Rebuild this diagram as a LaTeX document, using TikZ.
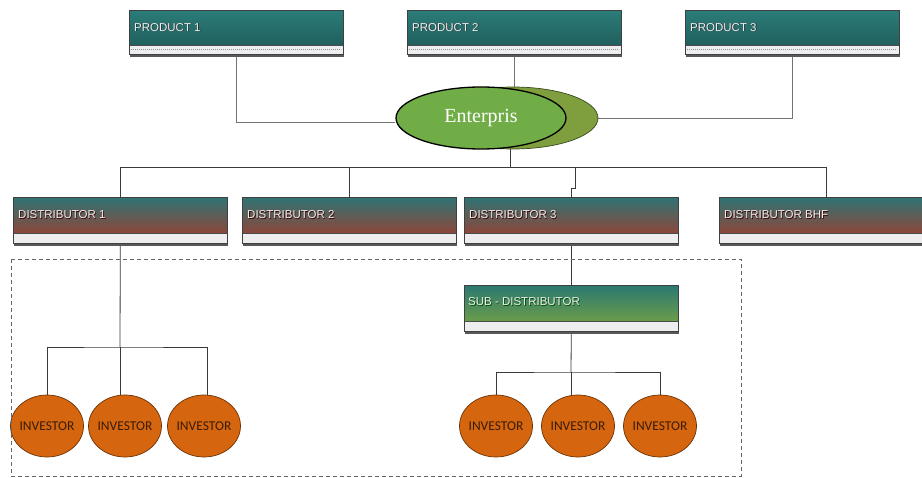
\documentclass[tikz,border=0pt]{standalone}
\usepackage{fontspec}
\setmainfont{Liberation Serif}
\newfontfamily\boxfont{Liberation Sans}
\newfontfamily\invfont{Carlito}
\usetikzlibrary{shapes.geometric,shadows}

\definecolor{prodtop}{HTML}{2B7C79}
\definecolor{prodbot}{HTML}{1E5856}
\definecolor{disttop}{HTML}{2E7474}
\definecolor{distmid}{HTML}{6A5A55}
\definecolor{distbot}{HTML}{A8392A}
\definecolor{subtop}{HTML}{2A7872}
\definecolor{submid}{HTML}{4E8E5A}
\definecolor{subbot}{HTML}{7DA73F}
\definecolor{stripe}{HTML}{EEEEF0}
\definecolor{invfill}{HTML}{D5660F}
\definecolor{invedge}{HTML}{6B3206}
\definecolor{invtext}{HTML}{3A1C08}
\definecolor{entfront}{HTML}{70AD47}
\definecolor{entback}{HTML}{7F9F3E}
\definecolor{wire}{HTML}{3A3A3A}
\definecolor{lighttext}{HTML}{EDEDED}

\pgfdeclarelayer{background}
\pgfsetlayers{background,main}

% title text with a small dark shadow behind it
\newcommand{\shtext}[2]{\makebox[0pt][l]{\hspace{0.8bp}\raisebox{-0.9bp}{\color{#1}#2}}#2}

\tikzset{
  cardbase/.style={draw=black!75, line width=0.6bp, inner sep=0pt, anchor=north west,
    minimum width=214bp,
    drop shadow={shadow xshift=0.6bp, shadow yshift=-3bp, fill=black!65, opacity=1}},
  prodcard/.style={cardbase, minimum height=44bp,
    path picture={
      \shade[top color=prodtop, bottom color=prodbot]
        (path picture bounding box.north west) rectangle ([yshift=9bp]path picture bounding box.south east);
      \fill[stripe] (path picture bounding box.south west) rectangle ([yshift=9bp]path picture bounding box.south east);
      \draw[black!70, line width=0.6bp] ([yshift=9bp]path picture bounding box.south west) -- ([yshift=9bp]path picture bounding box.south east);
      \draw[black!45, line width=1bp, dash pattern=on 1bp off 1bp]
        ([xshift=2bp,yshift=4.5bp]path picture bounding box.south west) -- ([xshift=-2bp,yshift=4.5bp]path picture bounding box.south east);
    }},
  distcard/.style={cardbase, minimum height=46bp,
    path picture={
      \shade[top color=disttop, middle color=distmid, bottom color=distbot]
        (path picture bounding box.north west) rectangle ([yshift=10bp]path picture bounding box.south east);
      \fill[stripe] (path picture bounding box.south west) rectangle ([yshift=10bp]path picture bounding box.south east);
      \draw[black!70, line width=0.6bp] ([yshift=10bp]path picture bounding box.south west) -- ([yshift=10bp]path picture bounding box.south east);
    }},
  subcard/.style={cardbase, minimum height=46bp,
    path picture={
      \shade[top color=subtop, middle color=submid, bottom color=subbot]
        (path picture bounding box.north west) rectangle ([yshift=10bp]path picture bounding box.south east);
      \fill[stripe] (path picture bounding box.south west) rectangle ([yshift=10bp]path picture bounding box.south east);
      \draw[black!70, line width=0.6bp] ([yshift=10bp]path picture bounding box.south west) -- ([yshift=10bp]path picture bounding box.south east);
    }},
  cardtitle/.style={anchor=west, inner sep=0pt, text=lighttext, font=\boxfont\fontsize{11.5bp}{13bp}\selectfont},
  investor/.style={ellipse, draw=invedge, line width=0.7bp, fill=invfill, minimum width=73bp, minimum height=62bp,
    inner sep=0pt, text=invtext, font=\invfont\fontsize{13.5bp}{15bp}\selectfont},
  wireline/.style={draw=wire, line width=0.8bp},
  prodline/.style={draw=black!55, line width=0.8bp},
  groupframe/.style={draw=black!60, line width=0.8bp, dash pattern=on 4bp off 3bp}
}
% investor caption set in a zero-width box so the ellipse keeps its fixed size
\newcommand{\invlabel}{\makebox[0pt]{INVESTOR}}

\begin{document}
\begin{tikzpicture}[x=1bp, y=-1bp]
\useasboundingbox (0,0) rectangle (922,478);

% products
\node[prodcard] (p1) at (129,10) {};
\node[prodcard] (p2) at (407,10) {};
\node[prodcard] (p3) at (685,10) {};
\node[cardtitle] (p1t) at ([xshift=5bp,yshift=-17.5bp]p1.north west) {\shtext{black!80}{PRODUCT 1}};
\node[cardtitle] (p2t) at ([xshift=5bp,yshift=-17.5bp]p2.north west) {\shtext{black!80}{PRODUCT 2}};
\node[cardtitle] (p3t) at ([xshift=5bp,yshift=-17.5bp]p3.north west) {\shtext{black!80}{PRODUCT 3}};

% enterprise
\node[ellipse, draw=black!55!entback, line width=0.7bp, fill=entback, minimum width=170bp, minimum height=62bp] (entb) at (513,118) {};
\node[ellipse, draw=black, line width=1.3bp, fill=entfront, minimum width=170bp, minimum height=62bp,
      text=white, font=\fontsize{20bp}{22bp}\selectfont] (ent) at (481,118) {Enterpris};

% distributors
\node[distcard] (d1) at (13,197) {};
\node[distcard] (d2) at (242,197) {};
\node[distcard] (d3) at (464,197) {};
\node[distcard] (d4) at (719,197) {};
\node[cardtitle] (d1t) at ([xshift=5bp,yshift=-18bp]d1.north west) {\shtext{black!75!red}{DISTRIBUTOR 1}};
\node[cardtitle] (d2t) at ([xshift=5bp,yshift=-18bp]d2.north west) {\shtext{black!75!red}{DISTRIBUTOR 2}};
\node[cardtitle] (d3t) at ([xshift=5bp,yshift=-18bp]d3.north west) {\shtext{black!75!red}{DISTRIBUTOR 3}};
\node[cardtitle] (d4t) at ([xshift=5bp,yshift=-18bp]d4.north west) {\shtext{black!75!red}{DISTRIBUTOR BHF}};

% sub-distributor
\node[subcard] (sub) at (464,285) {};
\node[cardtitle] (subt) at ([xshift=4bp,yshift=-17bp]sub.north west) {\shtext{black!70!green}{SUB - DISTRIBUTOR}};

% investors
\node[investor] (li1) at (47,426) {\invlabel};
\node[investor] (li2) at (125,426) {\invlabel};
\node[investor] (li3) at (204,426) {\invlabel};
\node[investor] (ri1) at (496,426) {\invlabel};
\node[investor] (ri2) at (578,426) {\invlabel};
\node[investor] (ri3) at (660,426) {\invlabel};

% junction points
\coordinate (hub) at (510,167);
\coordinate (lbus) at (120,347);
\coordinate (rbus) at (571,372);

% group frame
\draw[groupframe] (11,259) rectangle (741,476);

\begin{pgfonlayer}{background}
  % products to enterprise
  \draw[prodline] (p1.south) |- ([yshift=-4bp]ent.west);
  \draw[prodline] (p2.south) -- (p2.south |- ent.center);
  \draw[prodline] (p3.south) |- (entb.east);
  % enterprise to distributors
  \draw[wireline] (hub |- ent.center) -- (hub);
  \draw[wireline] (d1.north) -- (d1.north |- hub) -| (d4.north);
  \draw[wireline] (d2.north) -- (d2.north |- hub);
  \draw[wireline] (d3.north) -- ++(0,-9) -- ++(4,0) -- ++(0,-21);
  % distributor 1 to its investors
  \draw[wireline] (d1.south) -- (lbus);
  \draw[wireline] (li1.north) |- (lbus) -| ([xshift=3bp]li3.north);
  \draw[wireline] (lbus) -- (lbus |- li2.north);
  % distributor 3 to sub-distributor and its investors
  \draw[wireline] (d3.south) -- (sub.north);
  \draw[wireline] (sub.south) -- (rbus);
  \draw[wireline] (ri1.north) |- (rbus) -| (ri3.north);
  \draw[wireline] (rbus) -- (rbus |- ri2.north);
\end{pgfonlayer}
\end{tikzpicture}
\end{document}
